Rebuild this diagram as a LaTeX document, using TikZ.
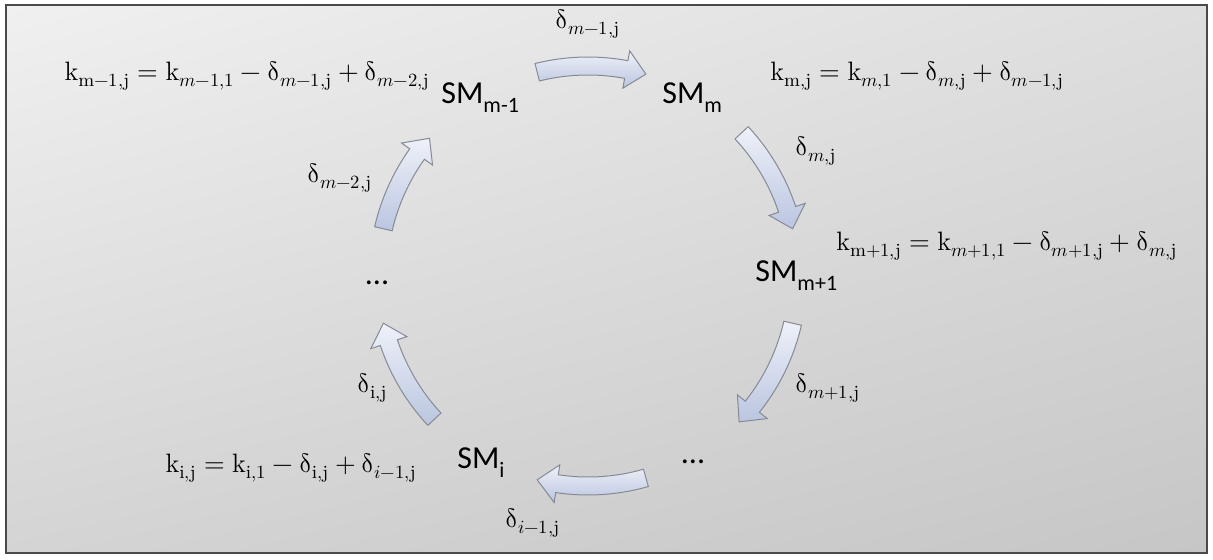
\documentclass[tikz,border=0pt]{standalone}
\usepackage{fontspec}
\usepackage{unicode-math}
\setmathfont{Latin Modern Math}
\newfontfamily\smfont{Carlito}
\usetikzlibrary{calc,shadings}
\definecolor{bgTL}{HTML}{F0F0F0}
\definecolor{bgTR}{HTML}{DEDEDE}
\definecolor{bgBL}{HTML}{D4D4D4}
\definecolor{bgBR}{HTML}{C6C6C6}
\definecolor{frameline}{HTML}{4A4A4A}
\definecolor{arrowtop}{HTML}{EEF1F9}
\definecolor{arrowbot}{HTML}{BAC5E0}
\definecolor{arrowline}{HTML}{868A94}
\tikzset{
  smlabel/.style={font=\smfont\fontsize{16}{18}\selectfont, inner sep=0pt},
  eqlabel/.style={font=\fontsize{13.3}{15}\selectfont, inner sep=0pt},
  dotslabel/.style={font=\smfont\fontsize{16}{18}\selectfont, inner sep=0pt},
  arrowbody/.style={draw=arrowline, line width=0.5pt, top color=arrowtop, bottom color=arrowbot},
}
\newcommand{\SMsub}[1]{SM\raisebox{-0.3em}{\fontsize{11}{12}\selectfont #1}}
\newcommand{\upd}{\symup{\delta}}
\newcommand{\rk}{\mathrm{k}}
\newcommand{\rj}{\mathrm{j}}
% curved block arrow: #1 tail angle, #2 tip angle (clockwise)
\newcommand{\cyarrow}[2]{%
  \pgfmathsetmacro\hb{#2+5.5}%
  \path[arrowbody] ($(C)+(#1:109.5pt)$) arc[start angle=#1, end angle=\hb, radius=109.5pt]
    -- ($(C)+(\hb:114.5pt)$) -- ($(C)+(#2:105pt)$) -- ($(C)+(\hb:95.5pt)$)
    -- ($(C)+(\hb:100.5pt)$) arc[start angle=\hb, end angle=#1, radius=100.5pt] -- cycle;
}
\begin{document}
\begin{tikzpicture}[x=0.5pt,y=0.5pt]
\useasboundingbox (0,0) rectangle (1213,559);
\shade[upper left=bgTL, upper right=bgTR, lower left=bgBL, lower right=bgBR]
  (6,6) rectangle (1207,554);
\draw[frameline, line width=0.9pt] (6,6) rectangle (1207,554);
\coordinate (C) at (588,283);
% arrows
\cyarrow{104}{74}
\cyarrow{43}{13}
\cyarrow{-13}{-44}
\cyarrow{-74}{-104}
\cyarrow{223}{193}
\cyarrow{167}{139}
% SM nodes
\node[smlabel, anchor=base west] (smm1) at (441,456) {\SMsub{m-1}};
\node[smlabel, anchor=base west] (smm) at (662,456) {\SMsub{m}};
\node[smlabel, anchor=base west] (smp) at (755,278) {\SMsub{m+1}};
\node[smlabel, anchor=base west] (smi) at (457,91) {\SMsub{i}};
\node[dotslabel] (dotsr) at (693,97) {...};
\node[dotslabel] (dotsl) at (377,276) {...};
% formulas
\node[eqlabel, anchor=base east] (fm1) at (430,479)
  {$\rk_{\mathrm{m}-1,\rj} = \rk_{m-1,1} - \upd_{m-1,\rj} + \upd_{m-2,\rj}$};
\node[eqlabel, anchor=base west] (fm) at (770,479)
  {$\rk_{\mathrm{m},\rj} = \rk_{m,1} - \upd_{m,\rj} + \upd_{m-1,\rj}$};
\node[eqlabel, anchor=base west] (fp) at (836,309)
  {$\rk_{\mathrm{m}+1,\rj} = \rk_{m+1,1} - \upd_{m+1,\rj} + \upd_{m,\rj}$};
\node[eqlabel, anchor=base east] (fi) at (417,87)
  {$\rk_{\mathrm{i},\rj} = \rk_{\mathrm{i},1} - \upd_{\mathrm{i},\rj} + \upd_{i-1,\rj}$};
% delta labels
\node[eqlabel, anchor=base west] (dm1) at (555,531) {$\upd_{m-1,\rj}$};
\node[eqlabel, anchor=base west] (dm) at (795,404) {$\upd_{m,\rj}$};
\node[eqlabel, anchor=base west] (dp) at (795,167) {$\upd_{m+1,\rj}$};
\node[eqlabel, anchor=base west] (dim1) at (505,32) {$\upd_{i-1,\rj}$};
\node[eqlabel, anchor=base west] (di) at (357,167) {$\upd_{\mathrm{i},\rj}$};
\node[eqlabel, anchor=base west] (dm2) at (307,377) {$\upd_{m-2,\rj}$};
\end{tikzpicture}
\end{document}
